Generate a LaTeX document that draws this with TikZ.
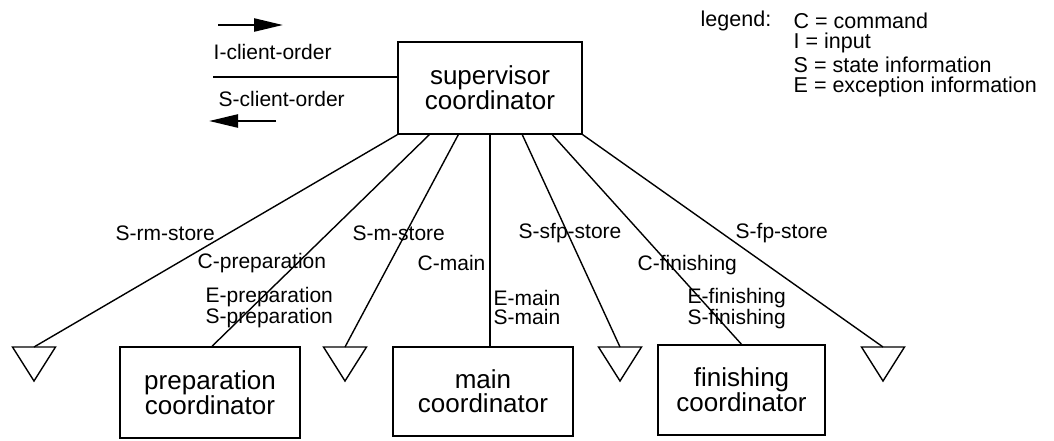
\documentclass[tikz,border=0pt]{standalone}
\usepackage{fontspec}
\setmainfont{Liberation Sans}
\usetikzlibrary{arrows.meta,calc}
\begin{document}
\begin{tikzpicture}[x=1pt,y=-1pt,
  line width=1.4pt,
  box/.style={draw,line width=1.4pt,inner sep=0pt,align=center,font=\fontsize{26}{24}\selectfont},
  lbl/.style={anchor=west,inner sep=0pt,align=left,font=\fontsize{21}{19.5}\selectfont},
  leg/.style={anchor=west,inner sep=0pt,font=\fontsize{21.5}{22}\selectfont},
  flow/.style={-{Triangle[length=29pt,width=13pt]},line width=2.4pt}]
\useasboundingbox (0,0) rectangle (1054,440);
% boxes
\node[box,minimum width=184pt,minimum height=92pt] (sup) at (490,88) {supervisor\\coordinator};
\node[box,minimum width=180pt,minimum height=91pt] (prep) at (210,392.5) {preparation\\coordinator};
\node[box,minimum width=180pt,minimum height=89pt] (main) at (483,391.5) {main\\coordinator};
\node[box,minimum width=167pt,minimum height=90pt] (fin) at (741.5,390) {finishing\\coordinator};
% triangles (stores)
\coordinate (t1) at (34,347);
\coordinate (t2) at (345,347);
\coordinate (t3) at (620,347);
\coordinate (t4) at (883,347);
\foreach \t in {t1,t2,t3,t4}{
  \draw[line join=miter] ($(\t)+(-21.5,0)$) -- ($(\t)+(21.5,0)$) -- ($(\t)+(0,34)$) -- cycle;
}
% start points on supervisor bottom
\coordinate (s1) at (sup.south west);
\coordinate (s2) at ($(sup.south west)+(32,0)$);
\coordinate (s3) at ($(sup.south west)+(61,0)$);
\coordinate (s4) at (sup.south);
\coordinate (s5) at ($(sup.south west)+(125,0)$);
\coordinate (s6) at ($(sup.south west)+(155,0)$);
\coordinate (s7) at (sup.south east);
\coordinate (p2) at ($(prep.north)+(2,0)$);
\coordinate (p4) at (main.north -| s4);
% connectors
\draw (s1) -- (t1);
\draw (s2) -- (p2);
\draw (s3) -- (t2);
\draw (s4) -- (p4);
\draw (s5) -- (t3);
\draw (s6) -- (fin.north);
\draw (s7) -- (t4);
% client order
\coordinate (co) at (213,77);
\draw (co) -- (co -| sup.west);
\coordinate (ia) at (218,25);
\coordinate (ib) at (283,25);
\coordinate (sa) at (276,121);
\coordinate (sb) at (209,121);
\draw[flow] (ia) -- (ib);
\draw[flow] (sa) -- (sb);
\node[lbl] (ico) at (213,52) {I-client-order};
\node[lbl] (sco) at (218,99) {S-client-order};
% labels
\node[lbl] (l1) at (115,233) {S-rm-store};
\node[lbl] (l2) at (197,263) {C-preparation};
\node[lbl] (l3) at (205,307.5) {E-preparation\\S-preparation};
\node[lbl] (l4) at (352,233) {S-m-store};
\node[lbl] (l5) at (417,263) {C-main};
\node[lbl] (l6) at (493,307.5) {E-main\\S-main};
\node[lbl] (l7) at (518,233) {S-sfp-store};
\node[lbl] (l8) at (637,265) {C-finishing};
\node[lbl] (l9) at (687,308.5) {E-finishing\\S-finishing};
\node[lbl] (l10) at (735,233) {S-fp-store};
% legend
\node[leg] (lg) at (700,21) {legend:};
\node[leg] (lg1) at (793,21) {C = command};
\node[leg] (lg2) at (793,43) {I = input};
\node[leg] (lg3) at (793,65) {S = state information};
\node[leg] (lg4) at (793,87) {E = exception information};
\end{tikzpicture}
\end{document}
